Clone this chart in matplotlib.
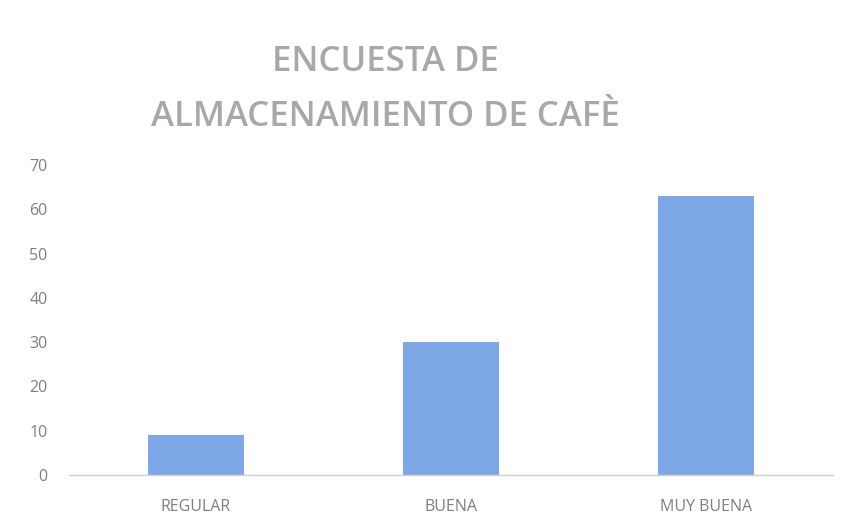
import matplotlib
matplotlib.use("Agg")
import matplotlib.pyplot as plt
import numpy as np

CATEGORIES = ["REGULAR", "BUENA", "MUY BUENA"]
VALUES = [9, 30, 63]
Y_TICKS = [0, 10, 20, 30, 40, 50, 60, 70]
TITLE = "ENCUESTA DE\nALMACENAMIENTO DE CAFÈ"

BAR_COLOR = "#7EA7E5"
TEXT_GRAY = "#7F7F7F"
TITLE_GRAY = "#A8A8A8"

plt.rcParams["font.family"] = ["Open Sans", "DejaVu Sans"]

fig = plt.figure(figsize=(8.46, 5.25), dpi=100)
ax = fig.add_axes([0.081, 0.095, 0.904, 0.591])

x = np.arange(len(CATEGORIES))
ax.bar(x, VALUES, width=0.376, color=BAR_COLOR, zorder=2)

ax.set_xlim(-0.5, len(CATEGORIES) - 0.5)
ax.set_ylim(0, 70)
ax.set_yticks(Y_TICKS)
ax.set_xticks(x, CATEGORIES)

for side in ["top", "right", "left"]:
    ax.spines[side].set_visible(False)
ax.spines["bottom"].set_color("#D0D0D0")
ax.spines["bottom"].set_linewidth(1.0)

ax.tick_params(axis="y", length=0, pad=15, labelsize=11.5, labelcolor=TEXT_GRAY)
ax.tick_params(axis="x", length=0, pad=17, labelsize=11.5, labelcolor=TEXT_GRAY)

fig.text(0.456, 0.829, TITLE, ha="center", va="center", fontsize=25,
         fontweight="semibold", color=TITLE_GRAY, linespacing=1.82)

fig.savefig("out.png", dpi=100, facecolor="white")
